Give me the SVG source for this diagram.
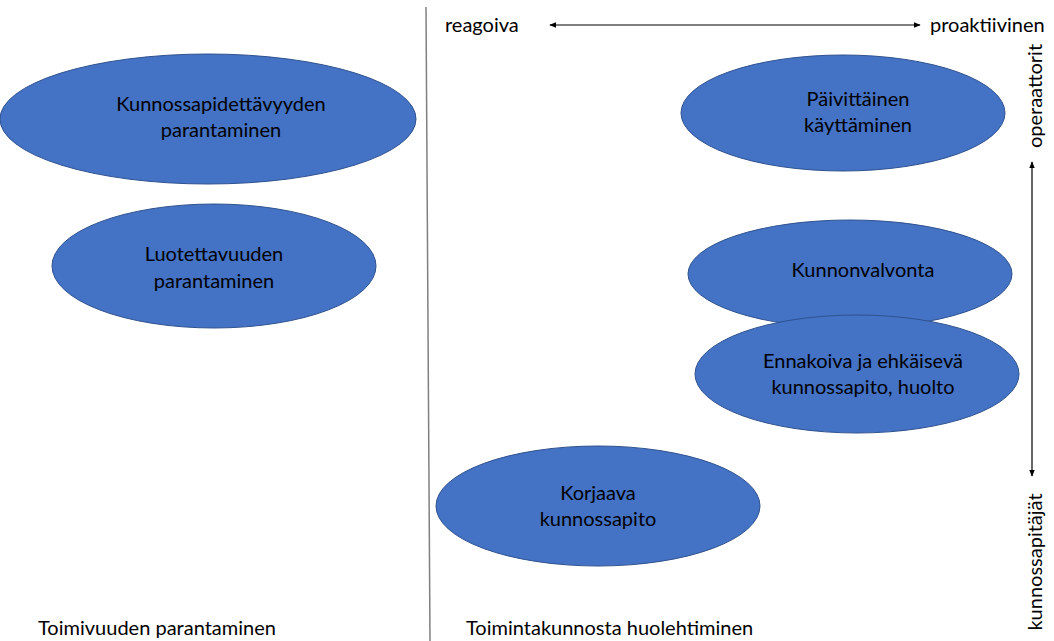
<svg xmlns="http://www.w3.org/2000/svg" width="1054" height="641" viewBox="0 0 1054 641">
  <style>
    .node ellipse { fill: #4472C4; stroke: #2F528F; stroke-width: 1; }
    text { font-family: Lato, "Open Sans", "Liberation Sans", sans-serif; font-size: 20px; fill: #000; }
    .c { text-anchor: middle; }
    .conn line { stroke: #000; stroke-width: 1.2; }
  </style>
  <defs>
    <marker id="ah" viewBox="0 0 10 10" refX="9" refY="5" markerWidth="6" markerHeight="6" orient="auto-start-reverse">
      <path d="M0,1 L10,5 L0,9 Z" fill="#000"/>
    </marker>
  </defs>
  <rect width="1054" height="641" fill="#fff"/>

  <!-- divider -->
  <line x1="426" y1="7" x2="430" y2="641" stroke="#808080" stroke-width="1.5"/>

  <!-- axes -->
  <g class="conn">
    <line x1="550" y1="25" x2="920" y2="25" marker-start="url(#ah)" marker-end="url(#ah)"/>
    <line x1="1032" y1="162" x2="1032" y2="476" marker-start="url(#ah)" marker-end="url(#ah)"/>
  </g>

  <text x="445" y="32">reagoiva</text>
  <text x="930" y="32">proaktiivinen</text>
  <text class="c" transform="translate(1042,96) rotate(-90)">operaattorit</text>
  <text class="c" transform="translate(1042,562) rotate(-90)">kunnossapitäjät</text>

  <g id="kunnossapidettavyys" class="node">
    <ellipse cx="208" cy="119" rx="208" ry="65"/>
    <text class="c" x="221" y="111">Kunnossapidettävyyden</text>
    <text class="c" x="221" y="137">parantaminen</text>
  </g>
  <g id="luotettavuus" class="node">
    <ellipse cx="214" cy="266" rx="162" ry="62"/>
    <text class="c" x="214" y="261">Luotettavuuden</text>
    <text class="c" x="214" y="288">parantaminen</text>
  </g>
  <g id="paivittainen" class="node">
    <ellipse cx="843" cy="113" rx="162" ry="58"/>
    <text class="c" x="858" y="106">Päivittäinen</text>
    <text class="c" x="858" y="132">käyttäminen</text>
  </g>
  <g id="kunnonvalvonta" class="node">
    <ellipse cx="850" cy="274" rx="162" ry="54"/>
    <text class="c" x="863" y="277">Kunnonvalvonta</text>
  </g>
  <g id="ennakoiva" class="node">
    <ellipse cx="857" cy="374" rx="162" ry="59"/>
    <text class="c" x="863" y="368">Ennakoiva ja ehkäisevä</text>
    <text class="c" x="863" y="394">kunnossapito, huolto</text>
  </g>
  <g id="korjaava" class="node">
    <ellipse cx="598" cy="506" rx="162" ry="60"/>
    <text class="c" x="598" y="500">Korjaava</text>
    <text class="c" x="598" y="526">kunnossapito</text>
  </g>

  <text x="38" y="635">Toimivuuden parantaminen</text>
  <text x="466" y="635">Toimintakunnosta huolehtiminen</text>
</svg>
